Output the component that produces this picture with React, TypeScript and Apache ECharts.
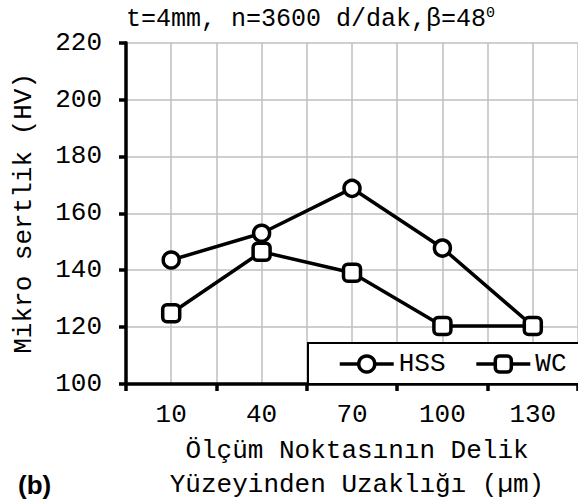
import React, { useEffect, useRef } from "react";
import * as echarts from "echarts";

const categories = ["10", "40", "70", "100", "130"];
const hssValues = [143.6, 153.0, 168.8, 147.8, 120.4];
const wcValues = [124.9, 146.5, 139.1, 120.4, 120.4];
const yTicks = { min: 100, max: 220, interval: 20 };

const MONO = "'Liberation Mono', 'DejaVu Sans Mono', monospace";
const FS = 26;

export default function App() {
  const ref = useRef<HTMLDivElement>(null);
  useEffect(() => {
    if (!ref.current) return;
    const chart = echarts.init(ref.current, undefined, { renderer: "svg" });
    chart.setOption({
      animation: false,
      backgroundColor: "#fff",
      title: {
        text: "{a|t=4mm, n=3600 d/dak,β=48}{s|0}",
        left: 126,
        top: 5,
        padding: 0,
        textStyle: {
          rich: {
            a: { fontFamily: MONO, fontSize: 25, fontWeight: "normal", color: "#000", lineHeight: 29 },
            s: { fontFamily: MONO, fontSize: 15, fontWeight: "normal", color: "#000", padding: [0, 0, 12, 0], lineHeight: 29 },
          },
        },
      },
      grid: { left: 126, top: 42.7, right: -8, bottom: 120, containLabel: false },
      xAxis: [
        {
          type: "category",
          data: categories,
          boundaryGap: true,
          axisLine: { lineStyle: { color: "#000", width: 3.5 } },
          axisTick: { show: true, interval: 0, length: 7, lineStyle: { color: "#000", width: 3.5 } },
          axisLabel: { fontFamily: MONO, fontSize: FS, color: "#000", margin: 18, interval: 0 },
          splitLine: { show: false },
          z: 5,
        },
        {
          type: "value",
          min: 0,
          max: 10,
          interval: 1,
          position: "bottom",
          axisLine: { show: false },
          axisTick: { show: false },
          axisLabel: { show: false },
          splitLine: { show: true, lineStyle: { color: "#bfbfbf", width: 1.5 } },
        },
      ],
      yAxis: {
        type: "value",
        min: yTicks.min,
        max: yTicks.max,
        interval: yTicks.interval,
        name: "Mikro sertlik (HV)",
        nameLocation: "middle",
        nameRotate: 90,
        nameGap: 89,
        nameTextStyle: { fontFamily: MONO, fontSize: FS, color: "#000" },
        axisLine: { show: true, lineStyle: { color: "#000", width: 3.5 } },
        axisTick: { show: true, length: 7, lineStyle: { color: "#000", width: 3.5 } },
        axisLabel: { fontFamily: MONO, fontSize: FS, color: "#000", margin: 24 },
        splitLine: { show: true, lineStyle: { color: "#bfbfbf", width: 1.5 } },
        z: 5,
      },
      legend: {
        left: 333,
        top: 346,
        z: 10,
        itemGap: 29,
        itemWidth: 54,
        itemHeight: 20,
        lineStyle: { width: 3.5, color: "#000" },
        itemStyle: { color: "#fff", borderColor: "#000", borderWidth: 3.5 },
        textStyle: { fontFamily: MONO, fontSize: FS, color: "#000" },
        data: ["HSS", "WC"],
      },
      graphic: [
        {
          type: "rect",
          z: 8,
          shape: { x: 308, y: 343, width: 300, height: 41 },
          style: { fill: "#fff", stroke: "#000", lineWidth: 2 },
        },
        {
          type: "text",
          x: 357,
          y: 451,
          style: {
            text: "Ölçüm Noktasının Delik",
            fontFamily: MONO,
            fontSize: FS,
            fill: "#000",
            align: "center",
            verticalAlign: "middle",
          },
        },
        {
          type: "text",
          x: 357,
          y: 485,
          style: {
            text: "Yüzeyinden Uzaklığı (µm)",
            fontFamily: MONO,
            fontSize: FS,
            fill: "#000",
            align: "center",
            verticalAlign: "middle",
          },
        },
        {
          type: "text",
          x: 18,
          y: 485,
          style: {
            text: "(b)",
            fontFamily: "'Liberation Sans', Arial, sans-serif",
            fontWeight: "bold",
            fontSize: 26,
            fill: "#000",
            align: "left",
            verticalAlign: "middle",
          },
        },
      ],
      series: [
        {
          name: "HSS",
          type: "line",
          xAxisIndex: 0,
          data: hssValues,
          symbol: "circle",
          symbolSize: 16,
          lineStyle: { color: "#000", width: 3.5 },
          itemStyle: { color: "#fff", borderColor: "#000", borderWidth: 3.5 },
          z: 6,
        },
        {
          name: "WC",
          type: "line",
          xAxisIndex: 0,
          data: wcValues,
          symbol: "roundRect",
          symbolSize: 17,
          lineStyle: { color: "#000", width: 3.5 },
          itemStyle: { color: "#fff", borderColor: "#000", borderWidth: 3.5 },
          z: 6,
        },
      ],
    });
    return () => chart.dispose();
  }, []);
  return (
    <div
      ref={ref}
      style={{ position: "absolute", left: 0, top: 0, width: 578, height: 504 }}
    />
  );
}
